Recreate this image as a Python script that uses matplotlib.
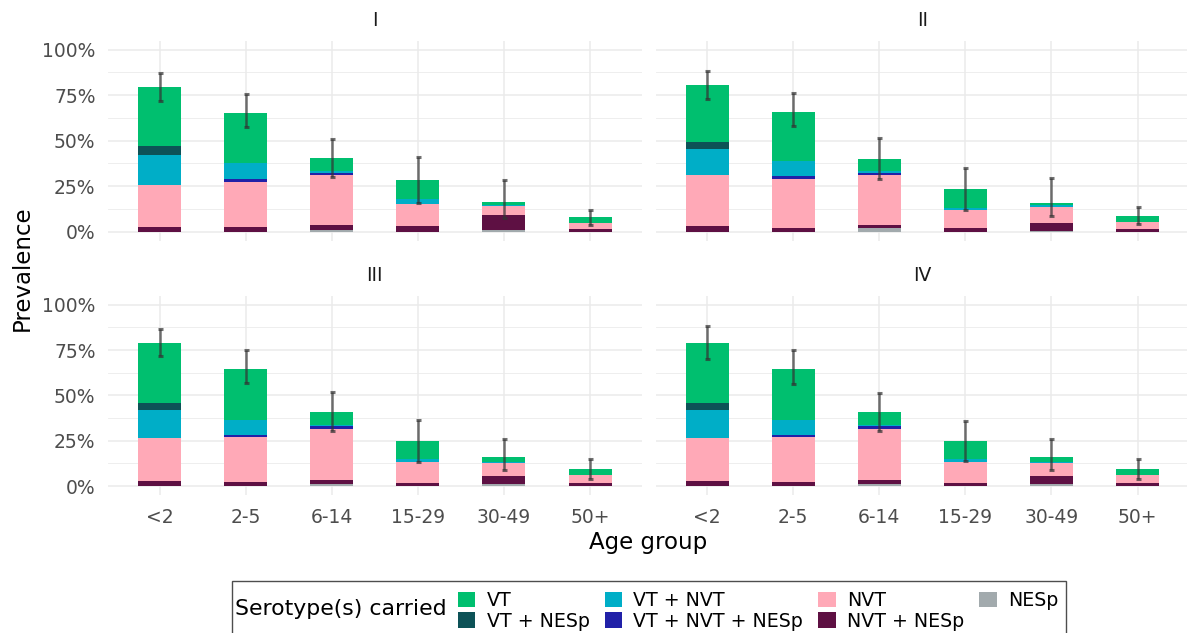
import matplotlib
matplotlib.use("Agg")
import matplotlib.pyplot as plt
from matplotlib.patches import Rectangle, Patch
import numpy as np

# categories
age_groups = ["<2", "2-5", "6-14", "15-29", "30-49", "50+"]
panels = ["I", "II", "III", "IV"]
serotypes = ["VT", "VT + NESp", "VT + NVT", "VT + NVT + NESp", "NVT", "NVT + NESp", "NESp"]
colors = ["#00BF6F", "#0D5257", "#00AEC7", "#2121A8", "#FFA9B7", "#5E1043", "#A2AAAD"]

# segment heights (%) per panel, one list per serotype group, age order as above
p1_vt        = [32.2, 27.6, 6.9, 10.7, 1.6, 3.0]
p1_vt_nesp   = [4.9, 0, 0, 0, 0, 0]
p1_vt_nvt    = [16.5, 8.6, 1.5, 2.7, 0.6, 0]
p1_vt_nvt_ne = [0, 1.5, 0.9, 0, 0, 0]
p1_nvt       = [22.9, 24.8, 27.6, 12.1, 5.2, 3.3]
p1_nvt_nesp  = [2.7, 2.6, 2.6, 2.9, 8.2, 1.6]
p1_nesp      = [0, 0, 0.9, 0, 0.9, 0]
p1_lo = [71.9, 57.6, 29.8, 15.6, 7.3, 3.8]
p1_hi = [86.9, 75.6, 50.9, 41.0, 28.4, 12.1]

p2_vt        = [30.9, 27.3, 6.8, 10.2, 1.1, 3.1]
p2_vt_nesp   = [4.2, 0, 0, 0, 0, 0]
p2_vt_nvt    = [14.3, 8.2, 0.9, 1.5, 1.1, 0]
p2_vt_nvt_ne = [0, 1.5, 0.9, 0, 0, 0]
p2_nvt       = [27.6, 26.7, 27.6, 9.9, 8.9, 4.2]
p2_nvt_nesp  = [3.3, 2.2, 1.9, 1.8, 4.1, 1.3]
p2_nesp      = [0, 0, 1.8, 0, 0.5, 0]
p2_lo = [72.8, 58.2, 28.7, 11.9, 8.4, 4.2]
p2_hi = [88.2, 76.3, 51.4, 35.1, 29.6, 13.7]

p3_vt        = [33.0, 28.1, 6.9, 9.8, 2.6, 3.1]
p3_vt_nesp   = [4.2, 0, 0, 0, 0, 0]
p3_vt_nvt    = [15.1, 8.4, 0.8, 1.8, 0.7, 0]
p3_vt_nvt_ne = [0, 1.1, 1.3, 0, 0, 0]
p3_nvt       = [24.0, 24.8, 28.2, 11.5, 7.0, 4.4]
p3_nvt_nesp  = [2.6, 2.0, 2.6, 1.7, 4.6, 1.7]
p3_nesp      = [0, 0, 0.9, 0, 0.9, 0]
p3_lo = [71.7, 56.7, 30.5, 13.2, 8.8, 4.0]
p3_hi = [86.4, 74.9, 51.6, 36.3, 25.9, 14.7]

p4_vt        = [33.0, 28.1, 6.9, 9.8, 2.6, 3.1]
p4_vt_nesp   = [4.2, 0, 0, 0, 0, 0]
p4_vt_nvt    = [15.1, 8.4, 0.8, 1.8, 0.7, 0]
p4_vt_nvt_ne = [0, 1.1, 1.3, 0, 0, 0]
p4_nvt       = [24.0, 24.8, 28.2, 11.5, 7.0, 4.4]
p4_nvt_nesp  = [2.6, 2.0, 2.6, 1.7, 4.6, 1.7]
p4_nesp      = [0, 0, 0.9, 0, 0.9, 0]
p4_lo = [69.9, 56.5, 30.5, 13.9, 8.8, 4.0]
p4_hi = [88.1, 75.0, 51.2, 35.8, 25.9, 14.9]

panel_data = {
    "I":   ([p1_vt, p1_vt_nesp, p1_vt_nvt, p1_vt_nvt_ne, p1_nvt, p1_nvt_nesp, p1_nesp], p1_lo, p1_hi),
    "II":  ([p2_vt, p2_vt_nesp, p2_vt_nvt, p2_vt_nvt_ne, p2_nvt, p2_nvt_nesp, p2_nesp], p2_lo, p2_hi),
    "III": ([p3_vt, p3_vt_nesp, p3_vt_nvt, p3_vt_nvt_ne, p3_nvt, p3_nvt_nesp, p3_nesp], p3_lo, p3_hi),
    "IV":  ([p4_vt, p4_vt_nesp, p4_vt_nvt, p4_vt_nvt_ne, p4_nvt, p4_nvt_nesp, p4_nesp], p4_lo, p4_hi),
}

W, H = 1187, 633
fig = plt.figure(figsize=(W / 100, H / 100), dpi=100)

# panel boxes in pixels: left, top, right, bottom
boxes = {
    "I":   (108, 40.5, 641.7, 240.8),
    "II":  (655.5, 40.5, 1189.2, 240.8),
    "III": (108, 295.6, 641.7, 495.1),
    "IV":  (655.5, 295.6, 1189.2, 495.1),
}

x = np.arange(len(age_groups))
for name in panels:
    l, t, r, b = boxes[name]
    ax = fig.add_axes([l / W, 1 - b / H, (r - l) / W, (b - t) / H])
    segs, lo, hi = panel_data[name]

    # stack from bottom: NESp first, VT on top
    bottom = np.zeros(len(age_groups))
    for vals, c in zip(segs[::-1], colors[::-1]):
        v = np.array(vals)
        ax.bar(x, v, width=0.5, bottom=bottom, color=c, linewidth=0, zorder=2)
        bottom += v

    mid = (np.array(lo) + np.array(hi)) / 2
    err = (np.array(hi) - np.array(lo)) / 2
    ax.errorbar(x, mid, yerr=err, fmt="none", ecolor="#333333", alpha=0.7,
                elinewidth=1.8, capsize=1.8, capthick=2.2, zorder=3)

    ax.set_xlim(-0.6, len(age_groups) - 0.4)
    ax.set_ylim(-5, 105)
    ax.set_yticks([0, 25, 50, 75, 100])
    ax.set_yticks([12.5, 37.5, 62.5, 87.5], minor=True)
    ax.set_xticks(x)
    ax.grid(True, which="major", color="#EBEBEB", linewidth=1.1, zorder=0)
    ax.grid(True, which="minor", axis="y", color="#EBEBEB", linewidth=0.6, zorder=0)
    ax.set_axisbelow(True)
    for s in ax.spines.values():
        s.set_visible(False)
    ax.tick_params(which="both", length=0, colors="#4D4D4D", labelsize=13.5)
    ax.tick_params(axis="x", pad=9.5)
    ax.tick_params(axis="y", pad=9)

    if name in ("I", "III"):
        ax.set_yticklabels([f"{v}%" for v in [0, 25, 50, 75, 100]])
    else:
        ax.set_yticklabels([])
    if name in ("III", "IV"):
        ax.set_xticklabels(age_groups)
    else:
        ax.set_xticklabels([])

    ax.text(0.5, 1 + 20.5 / (b - t), name, transform=ax.transAxes, ha="center",
            va="center", fontsize=13.5, color="#1A1A1A")

fig.text(648 / W, 1 - 542 / H, "Age group", ha="center", va="center", fontsize=16.5)
fig.text(22 / W, 1 - 268 / H, "Prevalence", ha="center", va="center", rotation=90, fontsize=16.5)

# legend box with title on the left
fig.patches.append(Rectangle((232 / W, -0.05), (1066 - 232) / W, 0.05 + 1 - 581 / H,
                             transform=fig.transFigure, facecolor="white",
                             edgecolor="#4D4D4D", linewidth=1.0, zorder=0))
fig.text(235 / W, 1 - 609 / H, "Serotype(s) carried", ha="left", va="center", fontsize=15.8)

handles = [Patch(facecolor=c, edgecolor="none") for c in colors]
fig.legend(handles, serotypes, ncol=4, loc="upper left",
           bbox_to_anchor=(458 / W, 1 - 591 / H), frameon=False, fontsize=13.7,
           borderpad=0, borderaxespad=0, handlelength=0.9, handleheight=0.9,
           handletextpad=0.6, columnspacing=0.8, labelspacing=0.08)

fig.savefig("out.png", dpi=100)
